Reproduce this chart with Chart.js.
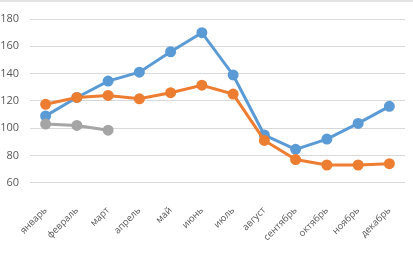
<!DOCTYPE html>
<html>
<head>
<meta charset="utf-8">
<script src="https://cdn.jsdelivr.net/npm/chart.js@4"></script>
<style>
  html, body { margin: 0; padding: 0; background: #fff; }
  #wrap { position: relative; width: 413px; height: 253px; }
  #topline { position: absolute; left: 0; top: 0; width: 413px; height: 2px; background: #e3e3e3; }
</style>
</head>
<body>
<div id="wrap">
  <canvas id="chart" width="413" height="253"></canvas>
  <div id="topline"></div>
</div>
<script>
// ---- data ----
const MONTHS = ['январь', 'февраль', 'март', 'апрель', 'май', 'июнь', 'июль', 'август', 'сентябрь', 'октябрь', 'ноябрь', 'декабрь'];
const SERIES_BLUE = [109, 122.5, 134.5, 141, 156, 170, 139, 95, 84.5, 92, 103.5, 116];
const SERIES_ORANGE = [117.5, 122.5, 124, 121.5, 126, 131.5, 125, 91, 77, 73, 73, 74];
const SERIES_GRAY = [103, 102, 98.5, null, null, null, null, null, null, null, null, null];
const Y_MIN = 60, Y_MAX = 180, Y_STEP = 20;

const COLORS = { blue: '#5B9BD5', orange: '#ED7D31', gray: '#A5A5A5', grid: '#d9d9d9', text: '#595959' };

function lineSet(data, color) {
  return {
    data, borderColor: color, backgroundColor: color,
    borderWidth: 3, pointRadius: 4, pointHoverRadius: 4,
    pointBackgroundColor: color, pointBorderColor: color, tension: 0, spanGaps: false,
  };
}

new Chart(document.getElementById('chart'), {
  type: 'line',
  data: {
    labels: MONTHS,
    datasets: [
      lineSet(SERIES_GRAY, COLORS.gray),
      lineSet(SERIES_ORANGE, COLORS.orange),
      lineSet(SERIES_BLUE, COLORS.blue),
    ],
  },
  options: {
    responsive: false,
    animation: false,
    layout: { padding: { left: 0, right: 8, top: 19, bottom: -4 } },
    plugins: { legend: { display: false }, tooltip: { enabled: false } },
    scales: {
      x: {
        offset: true,
        grid: { display: false },
        border: { display: false },
        ticks: {
          color: COLORS.text, font: { family: 'Open Sans', size: 9.5 },
          minRotation: 45, maxRotation: 45, padding: 14, autoSkip: false,
        },
      },
      y: {
        min: Y_MIN, max: Y_MAX,
        grid: { color: COLORS.grid, drawTicks: false },
        border: { display: false },
        afterFit: (scale) => { scale.width = 30; },
        ticks: {
          stepSize: Y_STEP, color: COLORS.text, padding: 11,
          font: { family: 'Open Sans', size: 11 },
        },
      },
    },
  },
});
</script>
</body>
</html>
